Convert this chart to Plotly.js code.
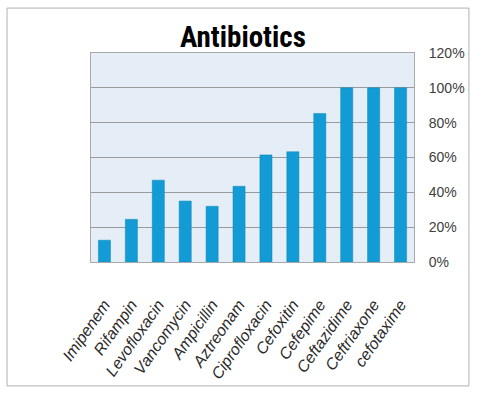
<!DOCTYPE html>
<html>
<head>
<meta charset="utf-8">
<script src="https://cdn.plot.ly/plotly-3.0.1.min.js"></script>
<style>
  html,body{margin:0;padding:0;background:#fff;}
  #chart{width:480px;height:395px;}
</style>
</head>
<body>
<div id="chart"></div>
<script>
const drugs = ['Imipenem','Rifampin','Levofloxacin','Vancomycin','Ampicillin','Aztreonam',
  'Ciprofloxacin','Cefoxitin','Cefepime','Ceftazidime','Ceftriaxone','cefotaxime'];
const resistance = [0.125, 0.245, 0.47, 0.35, 0.32, 0.435, 0.615, 0.633, 0.853, 1.0, 1.0, 1.0];
const tickVals = [0, 0.2, 0.4, 0.6, 0.8, 1.0, 1.2];
const tickText = ['0%','20%','40%','60%','80%','100%','120%'];

const trace = {
  type:'bar',
  x: drugs,
  y: resistance,
  marker:{color:'#129bd4', line:{color:'#0f86bb', width:0.5}},
  hoverinfo:'x+y'
};

const layout = {
  width:480, height:395,
  margin:{l:91, r:66, t:53, b:133},
  paper_bgcolor:'#ffffff',
  plot_bgcolor:'#e5eef7',
  showlegend:false,
  bargap:0.55,
  title:{
    text:'<b>Antibiotics</b>',
    x:0.506, xanchor:'center',
    y:0.906, yanchor:'middle',
    font:{family:'"Liberation Sans Narrow", "Roboto Condensed", Roboto, sans-serif', size:29, color:'#000'}
  },
  xaxis:{
    tickangle:-55,
    tickfont:{family:'"Liberation Sans", Arial, sans-serif', size:16, style:'italic', color:'#2a2a2a'},
    ticks:'', ticklabelstandoff:26,
    showline:true, linecolor:'#a9a9a9', linewidth:1, mirror:true,
    showgrid:false, fixedrange:true
  },
  yaxis:{
    side:'right',
    range:[0, 1.2],
    tickvals: tickVals,
    ticktext: tickText,
    tickfont:{family:'"Liberation Sans Narrow", "Liberation Sans", Arial, sans-serif', size:14, color:'#404040'},
    ticks:'', ticklabelstandoff:11,
    showgrid:true, gridcolor:'#9a9a9a', gridwidth:1,
    showline:true, linecolor:'#a9a9a9', linewidth:1, mirror:true,
    zeroline:false, fixedrange:true
  },
  shapes:[
    {type:'rect', xref:'paper', yref:'paper',
     x0:-0.26, x1:1.17, y0:-0.593, y1:1.215,
     line:{color:'#b0b0b0', width:1}, fillcolor:'rgba(0,0,0,0)', layer:'below'}
  ]
};

Plotly.newPlot('chart', [trace], layout, {displayModeBar:false, staticPlot:true});
</script>
</body>
</html>
